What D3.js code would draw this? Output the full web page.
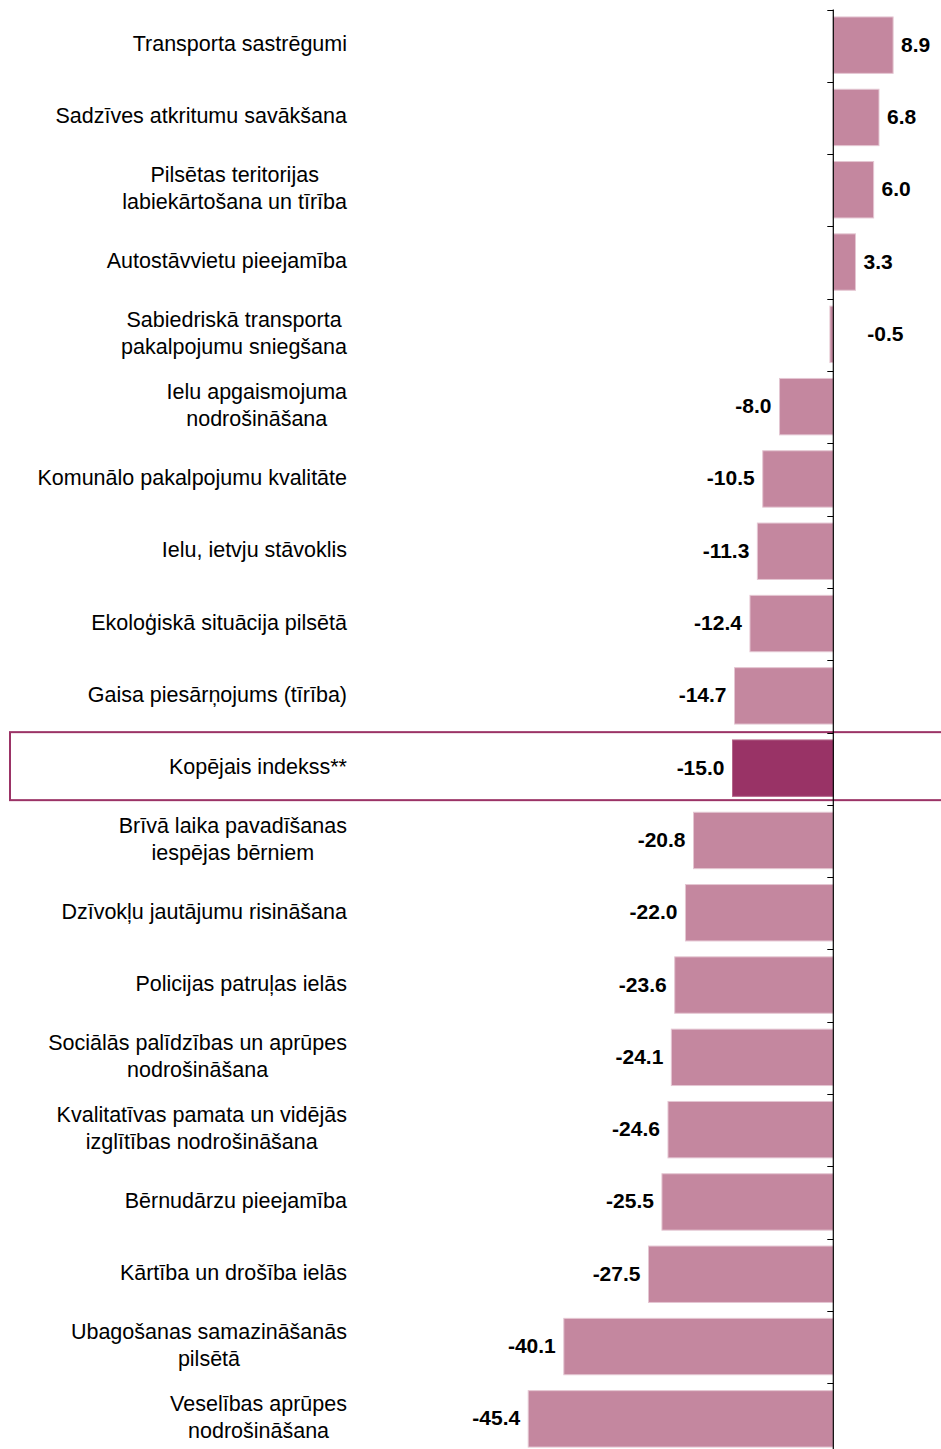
<!DOCTYPE html>
<html><head><meta charset="utf-8">
<script src="https://cdn.jsdelivr.net/npm/d3@7"></script>
<style>body{margin:0;background:#fff}svg{display:block}</style>
</head><body>
<script>
const categories = [
  ["Transporta sastrēgumi"],
  ["Sadzīves atkritumu savākšana"],
  ["Pilsētas teritorijas","labiekārtošana un tīrība"],
  ["Autostāvvietu pieejamība"],
  ["Sabiedriskā transporta","pakalpojumu sniegšana"],
  ["Ielu apgaismojuma","nodrošināšana"],
  ["Komunālo pakalpojumu kvalitāte"],
  ["Ielu, ietvju stāvoklis"],
  ["Ekoloģiskā situācija pilsētā"],
  ["Gaisa piesārņojums (tīrība)"],
  ["Kopējais indekss**"],
  ["Brīvā laika pavadīšanas","iespējas bērniem"],
  ["Dzīvokļu jautājumu risināšana"],
  ["Policijas patruļas ielās"],
  ["Sociālās palīdzības un aprūpes","nodrošināšana"],
  ["Kvalitatīvas pamata un vidējās","izglītības nodrošināšana"],
  ["Bērnudārzu pieejamība"],
  ["Kārtība un drošība ielās"],
  ["Ubagošanas samazināšanās","pilsētā"],
  ["Veselības aprūpes","nodrošināšana"]
];
const values = [8.9, 6.8, 6.0, 3.3, -0.5, -8.0, -10.5, -11.3, -12.4, -14.7, -15.0, -20.8, -22.0, -23.6, -24.1, -24.6, -25.5, -27.5, -40.1, -45.4];
const highlightIndex = 10;

const W = 941, H = 1449;
const svg = d3.select("body").append("svg").attr("width", W).attr("height", H);

const x = d3.scaleLinear().domain([-50, 10]).range([833.3 - 50 * 6.72, 833.3 + 10 * 6.72]);
const step = 72.3;
const y = d3.scaleBand().domain(d3.range(values.length)).range([9, 9 + step * values.length]).paddingInner(0.22).paddingOuter(0.11);

// highlight box
const hbH = 68;
svg.append("rect")
  .attr("x", 10).attr("y", y(highlightIndex) + y.bandwidth() / 2 - hbH / 2 - 2)
  .attr("width", 960).attr("height", hbH)
  .attr("fill", "none").attr("stroke", "#9b3366").attr("stroke-width", 2);

// bars
svg.selectAll("rect.bar").data(values).join("rect")
  .attr("class", "bar")
  .attr("x", d => x(Math.min(0, d)))
  .attr("width", d => Math.abs(x(d) - x(0)))
  .attr("y", (d, i) => y(i))
  .attr("height", y.bandwidth())
  .attr("fill", (d, i) => i === highlightIndex ? "#993366" : "#c4879f")
  .attr("stroke", (d, i) => i === highlightIndex ? "#b3668a" : "#e4c6d2")
  .attr("stroke-width", 1);

// axis
const axisG = svg.append("g");
axisG.append("line").attr("x1", x(0)).attr("x2", x(0)).attr("y1", 9.5).attr("y2", H)
  .attr("stroke", "#000").attr("stroke-width", 1.2);
const tickYs = d3.range(values.length + 1).map(i => 9.5 + i * step);
axisG.selectAll("line.tick").data(tickYs).join("line").attr("class", "tick")
  .attr("x1", x(0) - 6).attr("x2", x(0)).attr("y1", d => Math.round(d) + 0.5).attr("y2", d => Math.round(d) + 0.5)
  .attr("stroke", "#000").attr("stroke-width", 1);

// category labels
const labelRight = 347;
categories.forEach((lines, i) => {
  const cy = y(i) + y.bandwidth() / 2 - 1;
  const g = svg.append("g");
  const ts = lines.map((t, k) => g.append("text")
    .attr("font-family", "Liberation Sans, Arial, sans-serif")
    .attr("font-size", 21.5).attr("fill", "#000")
    .attr("dominant-baseline", "central")
    .attr("y", cy + (k - (lines.length - 1) / 2) * 27)
    .text(t));
  const widths = ts.map(t => t.node().getComputedTextLength());
  const maxW = d3.max(widths);
  const center = labelRight - maxW / 2;
  ts.forEach(t => t.attr("x", center).attr("text-anchor", "middle"));
});

// value labels
svg.selectAll("text.val").data(values).join("text")
  .attr("class", "val")
  .attr("font-family", "Liberation Sans, Arial, sans-serif")
  .attr("font-size", 21).attr("font-weight", "bold").attr("fill", "#000")
  .attr("dominant-baseline", "central")
  .attr("y", (d, i) => y(i) + y.bandwidth() / 2 - 1)
  .attr("x", d => d >= 0 ? x(d) + 8 : (d > -1 ? x(0) + 34 : x(d) - 8))
  .attr("text-anchor", d => (d >= 0 || d > -1) ? "start" : "end")
  .text(d => d.toFixed(1));
</script>
</body></html>
